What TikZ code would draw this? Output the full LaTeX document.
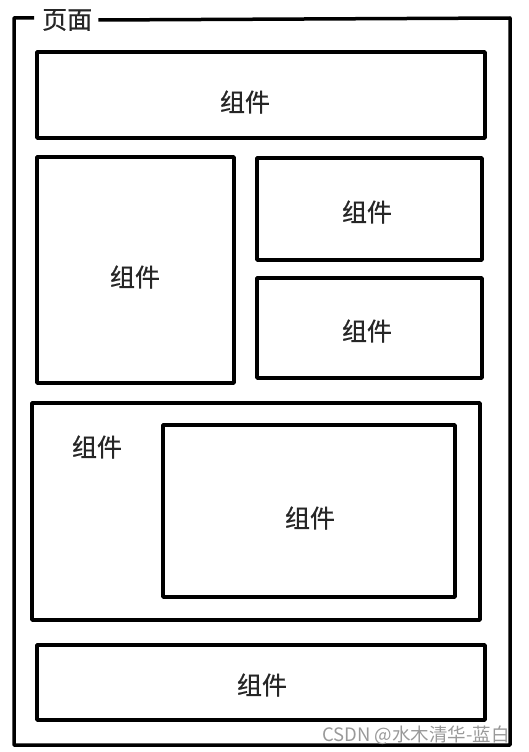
\documentclass[tikz,border=0pt]{standalone}
\usepackage{fontspec}
\setmainfont{Noto Sans CJK SC}[FakeBold=0.6]
\newfontfamily\wmfont{Noto Sans CJK SC}
\begin{document}
\begin{tikzpicture}[x=1pt,y=-1pt,
  box/.style={draw=black, line width=3.5pt, line join=round},
  lbl/.style={font=\fontsize{25}{27}\selectfont, text=black!85, inner sep=0pt},
  wm/.style={font=\wmfont\fontsize{18.5}{20}\selectfont, text=black!40, inner sep=0pt, anchor=east}]
\useasboundingbox (0,0) rectangle (528,752);
% outer page frame with gap for the title
\coordinate (ftl) at (14,18);
\coordinate (fbr) at (510,745);
\node[lbl, anchor=west] (title) at (42,20) {页面};
\draw[box] (title.east) ++(6,0) coordinate (tgap) -- (fbr |- ftl) -- (fbr) -- (ftl |- fbr) -- (ftl) -- ([xshift=-8pt]title.west |- ftl);
% components
\draw[box] (37,52) rectangle (485,138);
\node[lbl] (c1) at (245,102) {组件};
\draw[box] (37,157) rectangle (234,383);
\node[lbl] (c2) at (135,277) {组件};
\draw[box] (257,158) rectangle (482,260);
\node[lbl] (c3) at (367,212) {组件};
\draw[box] (257,278) rectangle (482,378);
\node[lbl] (c4) at (367,331) {组件};
\draw[box] (32,403) rectangle (480,620);
\node[lbl] (c5) at (97,447) {组件};
\draw[box] (163,425) rectangle (455,597);
\node[lbl] (c6) at (310,518) {组件};
\draw[box] (37,645) rectangle (485,720);
\node[lbl] (c7) at (262,685) {组件};
\node[wm] (wmk) at (510,735) {CSDN @水木清华-蓝白};
\end{tikzpicture}
\end{document}
